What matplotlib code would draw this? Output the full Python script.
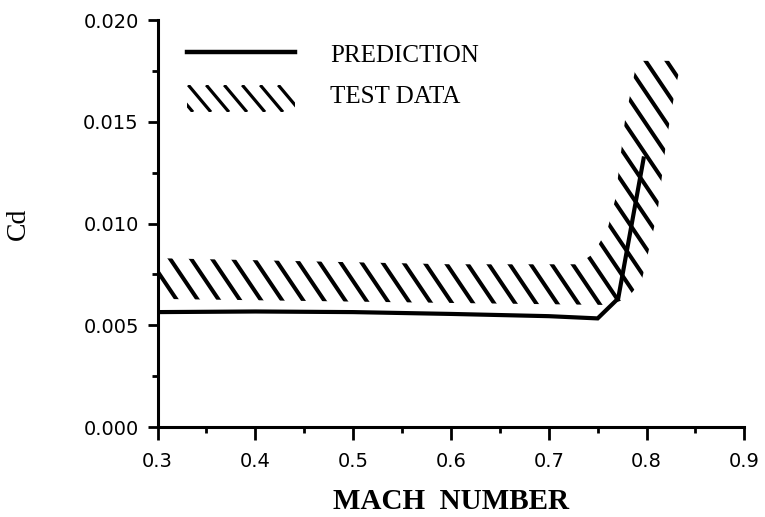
import numpy as np
import matplotlib
matplotlib.use("Agg")
import matplotlib.pyplot as plt
from matplotlib.patches import Polygon, Rectangle
from matplotlib.collections import LineCollection
from matplotlib.ticker import MultipleLocator

# ---- data ----
mach_pred = [0.30, 0.40, 0.50, 0.60, 0.70, 0.75, 0.771, 0.797]
cd_pred = [0.00565, 0.00568, 0.00565, 0.00556, 0.00545, 0.00534, 0.00632, 0.0132]

# test-data band: upper/left edge and lower/right edge
band_top_mach = [0.30, 0.60, 0.73, 0.745, 0.76, 0.768, 0.778, 0.789, 0.792]
band_top_cd = [0.0083, 0.0080, 0.0080, 0.0085, 0.0097, 0.0112, 0.0151, 0.0177, 0.0180]
band_bot_mach = [0.30, 0.60, 0.76, 0.78, 0.795, 0.811, 0.82, 0.83, 0.836]
band_bot_cd = [0.0063, 0.0061, 0.0060, 0.0063, 0.0072, 0.0105, 0.0140, 0.0168, 0.0180]

SERIF = "Liberation Serif"
SANS = "DejaVu Sans"

fig = plt.figure(figsize=(7.65, 5.17), dpi=100)
ax = fig.add_axes([0.206, 0.174, 0.767, 0.787])
ax.set_xlim(0.3, 0.9)
ax.set_ylim(0.0, 0.020)

W_PX, H_PX = 0.767 * 765, 0.787 * 517


def hatch(ax, clip, x0, x1, y0, y1, step=21, ang=58, lw=2.6):
    """draw '\\' hatching in pixel space, clipped to a patch"""
    t = np.tan(np.radians(ang))
    segs = []
    h = y1 - y0
    x = x0 - h / t
    while x < x1:
        segs.append([((x) / W_PX, y1 / H_PX), ((x + h / t) / W_PX, y0 / H_PX)])
        x += step
    lc = LineCollection(segs, colors="black", linewidths=lw, transform=ax.transAxes,
                        capstyle="butt")
    ax.add_collection(lc)
    lc.set_clip_path(clip)


# band polygon
pts = list(zip(band_top_mach, band_top_cd)) + list(zip(band_bot_mach[::-1], band_bot_cd[::-1]))
band = Polygon(pts, closed=True, facecolor="none", edgecolor="none")
ax.add_patch(band)
hatch(ax, band, 0, W_PX, 0, H_PX, step=21, ang=56, lw=2.9)

# prediction line
ax.plot(mach_pred, cd_pred, color="black", lw=3, solid_joinstyle="miter", zorder=3)

# legend drawn by hand
ax.plot([0.050, 0.234], [0.921, 0.921], color="black", lw=3.2, transform=ax.transAxes)
lx0, lx1 = 0.050 * W_PX, 0.234 * W_PX
ly0, ly1 = (427 - 112), (427 - 85)
rect = Rectangle((lx0 / W_PX, ly0 / H_PX), (lx1 - lx0) / W_PX, (ly1 - ly0) / H_PX,
                 transform=ax.transAxes, facecolor="none", edgecolor="none")
ax.add_patch(rect)
hatch(ax, rect, lx0 + 6, lx1 + 14, ly0, ly1, step=18, ang=50, lw=2.3)
ax.text(0.294, 0.912, "PREDICTION", transform=ax.transAxes, family=SERIF,
        fontsize=18, va="center", ha="left")
ax.text(0.294, 0.812, "TEST DATA", transform=ax.transAxes, family=SERIF,
        fontsize=18, va="center", ha="left")

# axes styling
for s in ["top", "right"]:
    ax.spines[s].set_visible(False)
for s in ["left", "bottom"]:
    ax.spines[s].set_linewidth(2.2)
ax.xaxis.set_major_locator(MultipleLocator(0.1))
ax.xaxis.set_minor_locator(MultipleLocator(0.05))
ax.yaxis.set_major_locator(MultipleLocator(0.005))
ax.yaxis.set_minor_locator(MultipleLocator(0.0025))
ax.xaxis.set_major_formatter(plt.FuncFormatter(lambda v, p: f"{v:.1f}"))
ax.yaxis.set_major_formatter(plt.FuncFormatter(lambda v, p: f"{v:.3f}"))
ax.tick_params(axis="x", which="major", length=9, width=2, pad=9)
ax.tick_params(axis="y", which="major", length=7.5, width=2, pad=6)
ax.tick_params(which="minor", length=4, width=2)
ax.tick_params(labelsize=14, labelfontfamily=SANS)

ax.set_xlabel("MACH  NUMBER", family=SERIF, fontweight="bold", fontsize=21, labelpad=12)
ax.set_ylabel("Cd", family=SERIF, fontsize=20, labelpad=38)

fig.savefig("out.png", dpi=100)
